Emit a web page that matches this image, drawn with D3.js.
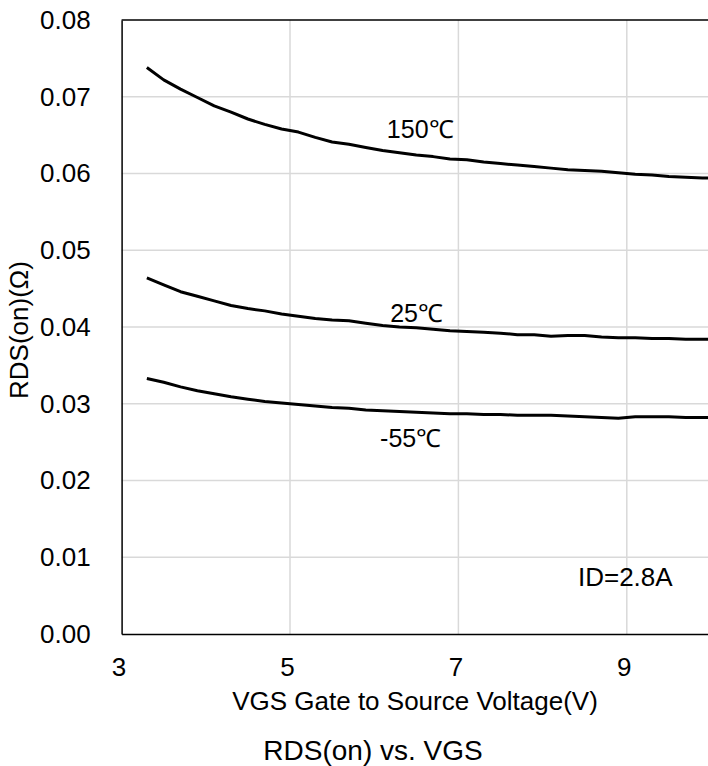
<!DOCTYPE html>
<html>
<head>
<meta charset="utf-8">
<script src="https://cdn.jsdelivr.net/npm/d3@7"></script>
<style>
  html, body { margin: 0; padding: 0; background: #fff; }
  svg { display: block; font-family: "Liberation Sans", Arial, sans-serif; }
</style>
</head>
<body>
<svg id="chart" width="708" height="766"></svg>
<script>
const vgs = [3.3, 3.5, 3.7, 3.9, 4.1, 4.3, 4.5, 4.7, 4.9, 5.1, 5.3, 5.5, 5.7, 5.9, 6.1, 6.3, 6.5, 6.7, 6.9, 7.1, 7.3, 7.5, 7.7, 7.9, 8.1, 8.3, 8.5, 8.7, 8.9, 9.1, 9.3, 9.5, 9.7, 9.9, 10.0];
const rds150 = [0.0738, 0.0722, 0.0710, 0.0699, 0.0688, 0.0680, 0.0671, 0.0664, 0.0658, 0.0654, 0.0647, 0.0641, 0.0638, 0.0634, 0.0630, 0.0627, 0.0624, 0.0622, 0.0619, 0.0618, 0.0615, 0.0613, 0.0611, 0.0609, 0.0607, 0.0605, 0.0604, 0.0603, 0.0601, 0.0599, 0.0598, 0.0596, 0.0595, 0.0594, 0.0594];
const rds25 = [0.0464, 0.0455, 0.0446, 0.0440, 0.0434, 0.0428, 0.0424, 0.0421, 0.0417, 0.0414, 0.0411, 0.0409, 0.0408, 0.0405, 0.0402, 0.0400, 0.0399, 0.0397, 0.0395, 0.0394, 0.0393, 0.0392, 0.0390, 0.0390, 0.0388, 0.0389, 0.0389, 0.0387, 0.0386, 0.0386, 0.0385, 0.0385, 0.0384, 0.0384, 0.0384];
const rdsM55 = [0.0333, 0.0328, 0.0322, 0.0317, 0.0313, 0.0309, 0.0306, 0.0303, 0.0301, 0.0299, 0.0297, 0.0295, 0.0294, 0.0292, 0.0291, 0.0290, 0.0289, 0.0288, 0.0287, 0.0287, 0.0286, 0.0286, 0.0285, 0.0285, 0.0285, 0.0284, 0.0283, 0.0282, 0.0281, 0.0283, 0.0283, 0.0283, 0.0282, 0.0282, 0.0282];
const xTicks = [3, 5, 7, 9];
const yTicks = [0.00, 0.01, 0.02, 0.03, 0.04, 0.05, 0.06, 0.07, 0.08];
const seriesLabels = ["150℃", "25℃", "-55℃"];
const labelX = [6.15, 6.19, 6.07];
const labelY = [0.0646, 0.0407, 0.0244];
const noteText = "ID=2.8A";
const noteX = 8.42, noteY = 0.0062;
const xTitle = "VGS Gate to Source Voltage(V)";
const yTitle = "RDS(on)(Ω)";
const chartTitle = "RDS(on) vs. VGS";

const svg = d3.select("#chart");
const x = d3.scaleLinear().domain([3, 10]).range([121.6, 711]);
const y = d3.scaleLinear().domain([0, 0.08]).range([634, 20]);

// gridlines
svg.append("g").selectAll("line.v").data(xTicks.slice(1)).join("line")
  .attr("x1", d => x(d)).attr("x2", d => x(d)).attr("y1", y(0)).attr("y2", y(0.08))
  .attr("stroke", "#d9d9d9").attr("stroke-width", 1.5);
svg.append("g").selectAll("line.h").data(yTicks.slice(1, -1)).join("line")
  .attr("x1", x(3)).attr("x2", 708).attr("y1", d => y(d)).attr("y2", d => y(d))
  .attr("stroke", "#d9d9d9").attr("stroke-width", 1.5);

// axes
const yAxis = d3.axisLeft(y).tickValues(yTicks).tickFormat(d3.format(".2f")).tickSize(0).tickPadding(31);
const gy = svg.append("g").attr("transform", `translate(${x(3)},0)`).call(yAxis);
gy.select(".domain").attr("stroke", "#000").attr("stroke-width", 1.5);
gy.selectAll("text").attr("font-size", 26).attr("fill", "#000").attr("font-family", "Liberation Sans, Arial, sans-serif");

const xAxis = d3.axisBottom(x).tickValues(xTicks).tickFormat(d3.format("d")).tickSize(0).tickPadding(24);
const gx = svg.append("g").attr("transform", `translate(0,${y(0)})`).call(xAxis);
gx.select(".domain").attr("stroke", "#000").attr("stroke-width", 1.5);
gx.selectAll("text").attr("font-size", 26).attr("fill", "#000").attr("dx", -3).attr("font-family", "Liberation Sans, Arial, sans-serif");

// top border
svg.append("line").attr("x1", x(3)).attr("x2", 708).attr("y1", y(0.08)).attr("y2", y(0.08))
  .attr("stroke", "#000").attr("stroke-width", 1.5);

// curves
const line = d3.line().x((d, i) => x(vgs[i])).y(d => y(d));
[rds150, rds25, rdsM55].forEach(s => {
  svg.append("path").datum(s).attr("d", line)
    .attr("fill", "none").attr("stroke", "#000").attr("stroke-width", 3).attr("stroke-linejoin", "round");
});

// labels
seriesLabels.forEach((t, i) => {
  svg.append("text").attr("x", x(labelX[i])).attr("y", y(labelY[i]))
    .attr("font-size", 25).attr("fill", "#000").text(t);
});
svg.append("text").attr("x", x(noteX)).attr("y", y(noteY)).attr("font-size", 26).attr("fill", "#000").text(noteText);

// titles
svg.append("text").attr("x", 415).attr("y", 710).attr("text-anchor", "middle").attr("font-size", 26).attr("fill", "#000").text(xTitle);
svg.append("text").attr("transform", "translate(28,330) rotate(-90)").attr("text-anchor", "middle").attr("font-size", 26).attr("fill", "#000").text(yTitle);
svg.append("text").attr("x", 373).attr("y", 760).attr("text-anchor", "middle").attr("font-size", 28).attr("fill", "#000").text(chartTitle);
</script>
</body>
</html>
